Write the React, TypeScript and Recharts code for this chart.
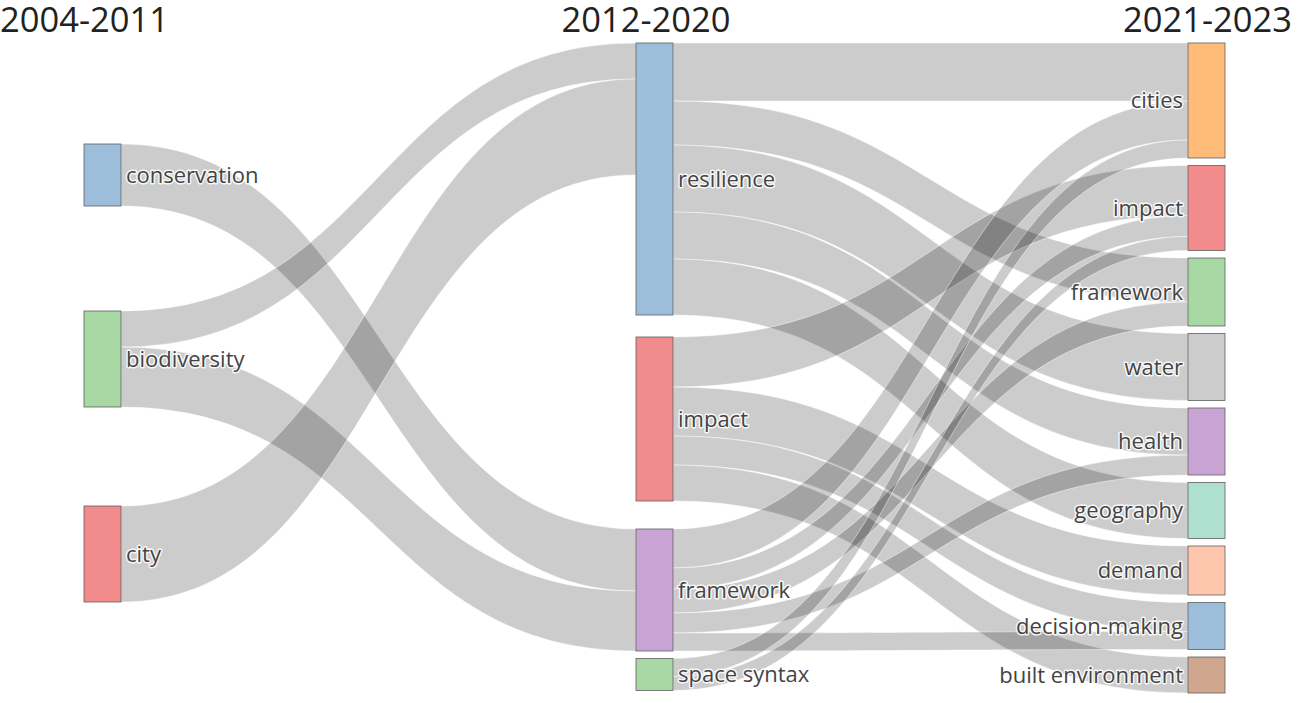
import React from 'react';
import { Sankey } from 'recharts';

const PERIODS = ['2004-2011', '2012-2020', '2021-2023'];

const TERMS_EARLY = ['conservation', 'biodiversity', 'city'];
const TERMS_MID = ['resilience', 'impact', 'framework', 'space syntax'];
const TERMS_LATE = [
  'cities',
  'impact',
  'framework',
  'water',
  'health',
  'geography',
  'demand',
  'decision-making',
  'built environment',
];

// [2004-2011 term, 2012-2020 term, weight]
const FLOWS_EARLY: [string, string, number][] = [
  ['conservation', 'framework', 62],
  ['biodiversity', 'resilience', 36],
  ['biodiversity', 'framework', 60],
  ['city', 'resilience', 96],
];

// [2012-2020 term, 2021-2023 term, weight]
const FLOWS_LATE: [string, string, number][] = [
  ['resilience', 'cities', 58],
  ['resilience', 'framework', 44],
  ['resilience', 'water', 67],
  ['resilience', 'health', 47],
  ['resilience', 'geography', 56],
  ['impact', 'impact', 50],
  ['impact', 'demand', 49],
  ['impact', 'decision-making', 29],
  ['impact', 'built environment', 36],
  ['framework', 'cities', 39],
  ['framework', 'impact', 21],
  ['framework', 'framework', 24],
  ['framework', 'health', 20],
  ['framework', 'decision-making', 18],
  ['space syntax', 'cities', 18],
  ['space syntax', 'impact', 14],
];

const COLORS_EARLY = ['#9dbedb', '#a8d8a3', '#f28b8b'];
const COLORS_MID = ['#9dbedb', '#f28b8b', '#c9a3d3', '#a8d8a3'];
const COLORS_LATE = [
  '#ffbb78',
  '#f28b8b',
  '#a8d8a3',
  '#cccccc',
  '#c9a3d3',
  '#ade0cf',
  '#ffc6ae',
  '#9dbedb',
  '#cfa78f',
];

// layout helpers: invisible spacer nodes push the columns into place
const PAD = 7.5;
const EARLY_GAPS = [93.5, 90, 84]; // above conservation, above biodiversity, above city
const MID_GAPS = [7, 13]; // below resilience, below impact

type SNode = { name: string; color?: string; ghost?: boolean; labelLeft?: boolean };
type SLink = { source: number; target: number; value: number; ghost?: boolean };

const buildData = () => {
  const nodes: SNode[] = [];
  const links: SLink[] = [];
  const id: Record<string, number> = {};
  const add = (key: string, n: SNode) => {
    id[key] = nodes.length;
    nodes.push(n);
  };

  add('s1', { name: '', ghost: true });
  add('e:' + TERMS_EARLY[0], { name: TERMS_EARLY[0], color: COLORS_EARLY[0] });
  add('s2', { name: '', ghost: true });
  add('e:' + TERMS_EARLY[1], { name: TERMS_EARLY[1], color: COLORS_EARLY[1] });
  add('s3', { name: '', ghost: true });
  add('e:' + TERMS_EARLY[2], { name: TERMS_EARLY[2], color: COLORS_EARLY[2] });

  add('m:' + TERMS_MID[0], { name: TERMS_MID[0], color: COLORS_MID[0] });
  add('t1', { name: '', ghost: true });
  add('m:' + TERMS_MID[1], { name: TERMS_MID[1], color: COLORS_MID[1] });
  add('t2', { name: '', ghost: true });
  add('m:' + TERMS_MID[2], { name: TERMS_MID[2], color: COLORS_MID[2] });
  add('m:' + TERMS_MID[3], { name: TERMS_MID[3], color: COLORS_MID[3] });
  add('g', { name: '', ghost: true });

  TERMS_LATE.forEach((t, i) => add('l:' + t, { name: t, color: COLORS_LATE[i], labelLeft: true }));

  FLOWS_EARLY.forEach(([a, b, v]) => links.push({ source: id['e:' + a], target: id['m:' + b], value: v }));
  FLOWS_LATE.forEach(([a, b, v]) => links.push({ source: id['m:' + a], target: id['l:' + b], value: v }));

  const outOf = (t: string) => FLOWS_LATE.filter((f) => f[0] === t).reduce((s, f) => s + f[2], 0);
  const impactCap = outOf('impact');
  const syntaxCap = outOf('space syntax');

  const hid = (s: string, t: string, v: number) =>
    links.push({ source: id[s], target: id[t], value: v, ghost: true });

  const [g1, g2, g3] = EARLY_GAPS;
  const [m1, m2] = MID_GAPS;
  hid('s1', 'm:impact', g1);
  hid('s2', 't1', m1);
  hid('s2', 't2', m2);
  hid('s2', 'm:impact', Math.min(g2 - m1 - m2, impactCap - g1));
  hid('s3', 'm:space syntax', syntaxCap);
  const rest = g3 - syntaxCap;
  hid('s3', 'g', rest);
  hid('t1', 'l:cities', 0);
  hid('t2', 'l:cities', 0);
  hid('g', 'l:cities', 0);

  // inner height so that the middle column (with its bottom ghost) sets the scale to 1px per unit
  const midVals = TERMS_MID.reduce((s, t) => s + outOf(t), 0) + m1 + m2 + rest;
  const innerHeight = midVals + 6 * PAD;
  return { nodes, links, innerHeight };
};

const { nodes, links, innerHeight } = buildData();

const renderNode = (p: any) => {
  const { x, y, width, height, payload } = p;
  if (payload.ghost) return <g />;
  const left = !!payload.labelLeft;
  return (
    <g>
      <rect x={x} y={y} width={width} height={height} fill={payload.color} stroke="#5f5f5f" strokeWidth={0.8} />
      <text
        x={left ? x - 5 : x + width + 5}
        y={y + height / 2}
        dy="0.36em"
        textAnchor={left ? 'end' : 'start'}
        fontSize={22}
        fontFamily="'Open Sans', sans-serif"
        fill="#444"
        stroke="#fff"
        strokeWidth={3}
        strokeOpacity={0.85}
        strokeLinejoin="round"
        paintOrder="stroke"
      >
        {payload.name}
      </text>
    </g>
  );
};

const renderLink = (p: any) => {
  if (p.payload.ghost) return <g />;
  const { sourceX, targetX, sourceY, targetY, sourceControlX, targetControlX, linkWidth } = p;
  const h = linkWidth / 2;
  const d =
    `M${sourceX},${sourceY - h}` +
    `C${sourceControlX},${sourceY - h} ${targetControlX},${targetY - h} ${targetX},${targetY - h}` +
    `L${targetX},${targetY + h}` +
    `C${targetControlX},${targetY + h} ${sourceControlX},${sourceY + h} ${sourceX},${sourceY + h}Z`;
  return <path d={d} fill="rgba(0,0,0,0.2)" stroke="rgba(255,255,255,0.75)" strokeWidth={0.6} />;
};

const TOP = 43;
const LEFT = 84;
const INNER_W = 1141;

const titleStyle: React.CSSProperties = {
  position: 'absolute',
  top: 5,
  height: 27,
  lineHeight: '27px',
  fontFamily: "'Open Sans', sans-serif",
  fontSize: 34.5,
  color: '#222',
  whiteSpace: 'nowrap',
};

export default function App() {
  return (
    <div
      style={{
        position: 'absolute',
        left: 0,
        top: 0,
        width: 1299,
        height: 703,
        overflow: 'hidden',
        background: '#fff',
      }}
    >
      <Sankey
        width={1299}
        height={TOP + innerHeight}
        data={{ nodes, links }}
        margin={{ top: TOP, left: LEFT, right: 1299 - LEFT - INNER_W, bottom: 0 }}
        nodeWidth={37}
        nodePadding={PAD}
        iterations={0}
        linkCurvature={0.5}
        node={renderNode}
        link={renderLink}
      />
      <div style={{ ...titleStyle, left: 0 }}>{PERIODS[0]}</div>
      <div style={{ ...titleStyle, left: 546, width: 200, textAlign: 'center' }}>{PERIODS[1]}</div>
      <div style={{ ...titleStyle, right: 7, textAlign: 'right' }}>{PERIODS[2]}</div>
    </div>
  );
}
